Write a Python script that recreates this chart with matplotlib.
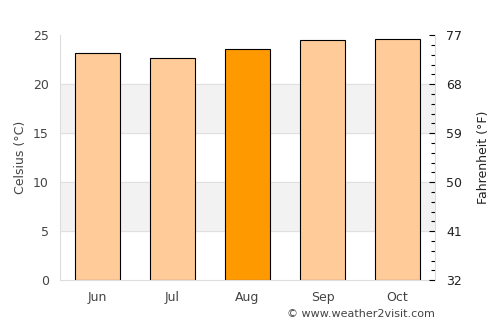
import matplotlib
matplotlib.use("Agg")
import matplotlib.pyplot as plt
import numpy as np

months = ["Jun", "Jul", "Aug", "Sep", "Oct"]
celsius = [23.2, 22.7, 23.6, 24.5, 24.6]
highlight = "Aug"
c_ticks = [0, 5, 10, 15, 20, 25]
f_labels = ["32", "41", "50", "59", "68", "77"]

fig = plt.figure(figsize=(5, 3.25), dpi=100)
ax = fig.add_axes([0.12, 0.138, 0.75, 0.754])

x = np.arange(len(months))
colors = ["#ff9900" if m == highlight else "#ffcc99" for m in months]

for lo in (5, 15):
    ax.axhspan(lo, lo + 5, color="#f2f2f2", zorder=0)
for y in (5, 10, 15, 20):
    ax.axhline(y, color="#e0e0e0", lw=0.8, zorder=0.5)

ax.bar(x, celsius, width=0.6, color=colors, edgecolor="black", linewidth=0.8, zorder=2)

ax.set_xlim(-0.5, len(months) - 0.5)
ax.set_ylim(0, 25)
ax.set_xticks(x)
ax.set_xticklabels(months)
ax.set_yticks(c_ticks)
ax.tick_params(axis="both", length=0, colors="#444444", labelsize=9, pad=8)
ax.tick_params(axis="x", pad=8)
for s in ("top", "right"):
    ax.spines[s].set_visible(False)
for s in ("left", "bottom"):
    ax.spines[s].set_color("#dddddd")
ax.set_ylabel("Celsius (°C)", color="#444444", fontsize=9)

ax2 = ax.twinx()
ax2.set_ylim(0, 25)
ax2.set_yticks(c_ticks)
ax2.set_yticklabels(f_labels)
ax2.set_yticks(np.arange(0, 26, 1), minor=True)
ax2.tick_params(axis="y", which="major", direction="in", length=4, width=0.8, color="black", labelsize=9, pad=8, labelcolor="#222222")
ax2.tick_params(axis="y", which="minor", direction="in", length=3, width=0.8, color="black")
for s in ("top", "left", "bottom"):
    ax2.spines[s].set_visible(False)
ax2.spines["right"].set_color("#dddddd")
ax2.set_ylabel("Fahrenheit (°F)", color="#222222", fontsize=9, labelpad=11)

fig.text(0.87, 0.035, "© www.weather2visit.com", ha="right", va="center", fontsize=8, color="#444444")

fig.savefig("out.png", dpi=100)
